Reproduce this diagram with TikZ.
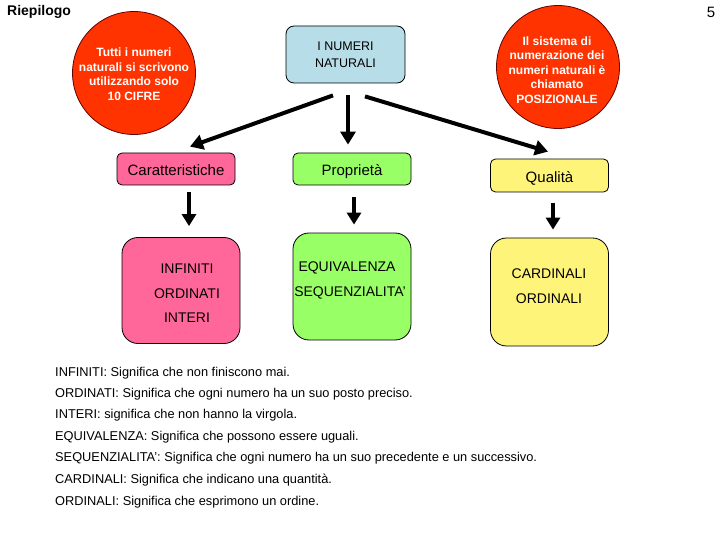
\documentclass[tikz,border=0pt]{standalone}
\usepackage{fontspec}
\setmainfont{Liberation Sans}
\usepackage{tikz}
\usetikzlibrary{arrows.meta}
\usetikzlibrary{positioning}

\definecolor{circred}{HTML}{FF3300}
\definecolor{natblue}{HTML}{B7DEE8}
\definecolor{carpink}{HTML}{FF6699}
\definecolor{prgreen}{HTML}{99FF66}
\definecolor{qyellow}{HTML}{FFF47A}

\newcommand{\fs}[2]{\fontsize{#1}{#2}\selectfont}

\begin{document}
\begin{tikzpicture}[
		x=1pt,
		y=-1pt,
		circ node/.style={circle, draw=black!60!red, line width=0.8pt, fill=circred, minimum size=123pt, inner sep=0pt},
		circ text/.style={text=white, font=\bfseries\fs{12}{14.5}, align=center},
		title node/.style={draw, line width=0.8pt, rounded corners=5pt, minimum width=118pt, minimum height=32pt, inner sep=0pt,
			text height=15pt, text depth=1pt, font=\fs{15}{18}},
		big node/.style={draw, line width=0.8pt, rounded corners=16pt, minimum width=118pt, minimum height=106pt, inner sep=0pt},
		box text/.style={font=\fs{14}{17}},
		def text/.style={anchor=base west, inner sep=0pt, font=\fs{12.8}{15}},
		big arrow/.style={line width=4pt, -{Triangle[width=15pt,length=13pt]}},
		small arrow/.style={line width=4.5pt, -{Triangle[width=14pt,length=12pt]}}
		]
		\useasboundingbox (0,0) rectangle (720,540);
		
		\node[anchor=west, inner sep=0pt, font=\bfseries\fs{14}{17}] (title) at (7,12) {Riepilogo};
		\node[inner sep=0pt, font=\fs{15}{18}] (page) at (711,12) {5};
		
		\node[circ node] (lcirc) at (134,73) {};
		\node[circ text] (ltext) at (134,74) {Tutti i numeri\\naturali si scrivono\\utilizzando solo\\10 CIFRE};
		\node[circ node] (rcirc) at (558,67) {};
		\node[circ text] (rtext) at (557,70) {Il sistema di\\numerazione dei\\numeri naturali è\\chiamato\\POSIZIONALE};
		
		\node[draw, line width=0.8pt, rounded corners=8pt, fill=natblue, minimum width=119pt, minimum height=57pt,
			align=center, font=\fs{12.5}{17}] (naturali) at (345.5,54.5) {I NUMERI\\NATURALI};
		
		\node[title node, fill=carpink] (caratt) at (176,169) {Caratteristiche};
		\node[title node, fill=prgreen] (propr) at (352,169) {Proprietà};
		\node[title node, fill=qyellow, minimum height=33pt] (qual) at (549.5,175.5) {Qualità};
		
		\node[big node, fill=carpink] (pinkbox) at (181,290.5) {};
		\node[big node, fill=prgreen, minimum height=107pt] (greenbox) at (352,286.5) {};
		\node[big node, fill=qyellow, minimum height=108pt] (yellowbox) at (549.5,292) {};
		
		\node[box text] (infiniti) at (187,269) {INFINITI};
		\node[box text] (ordinati) at (187,294) {ORDINATI};
		\node[box text] (interi) at (187,318) {INTERI};
		\node[box text] (equiv) at (347,268) {EQUIVALENZA};
		\node[box text] (sequenz) at (350,293) {SEQUENZIALITA’};
		\node[box text] (cardinali) at (549,274) {CARDINALI};
		\node[box text] (ordinali) at (549,299) {ORDINALI};
		
		% arrows from the top box
		\draw[big arrow] ([xshift=-12.5pt,yshift=-12pt]naturali.south) -- ([xshift=14pt,yshift=6pt]caratt.north);
		\draw[big arrow] ([xshift=2.5pt,yshift=-12pt]naturali.south) -- ([xshift=-4pt,yshift=8pt]propr.north);
		\draw[big arrow] ([xshift=19.5pt,yshift=-13pt]naturali.south) -- ([xshift=-1.5pt,yshift=7pt]qual.north);
		
		\draw[small arrow] ([xshift=13pt,yshift=-7pt]caratt.south) -- ([xshift=8pt,yshift=11pt]pinkbox.north);
		\draw[small arrow] ([xshift=2pt,yshift=-12pt]propr.south) -- ([xshift=2pt,yshift=8pt]greenbox.north);
		\draw[small arrow] ([xshift=3.5pt,yshift=-11pt]qual.south) -- ([xshift=3.5pt,yshift=8pt]yellowbox.north);
		
		% definitions
		\node[def text] (d1) at (55,376.5) {INFINITI: Significa che non finiscono mai.};
		\node[def text] (d2) at (55,397.5) {ORDINATI: Significa che ogni numero ha un suo posto preciso.};
		\node[def text] (d3) at (55,418.5) {INTERI: significa che non hanno la virgola.};
		\node[def text] (d4) at (55,440.5) {EQUIVALENZA: Significa che possono essere uguali.};
		\node[def text] (d5) at (55,461.5) {SEQUENZIALITA’: Significa che ogni numero ha un suo precedente e un successivo.};
		\node[def text] (d6) at (55,483.5) {CARDINALI: Significa che indicano una quantità.};
		\node[def text] (d7) at (55,505.5) {ORDINALI: Significa che esprimono un ordine.};
	\end{tikzpicture}
\end{document}
